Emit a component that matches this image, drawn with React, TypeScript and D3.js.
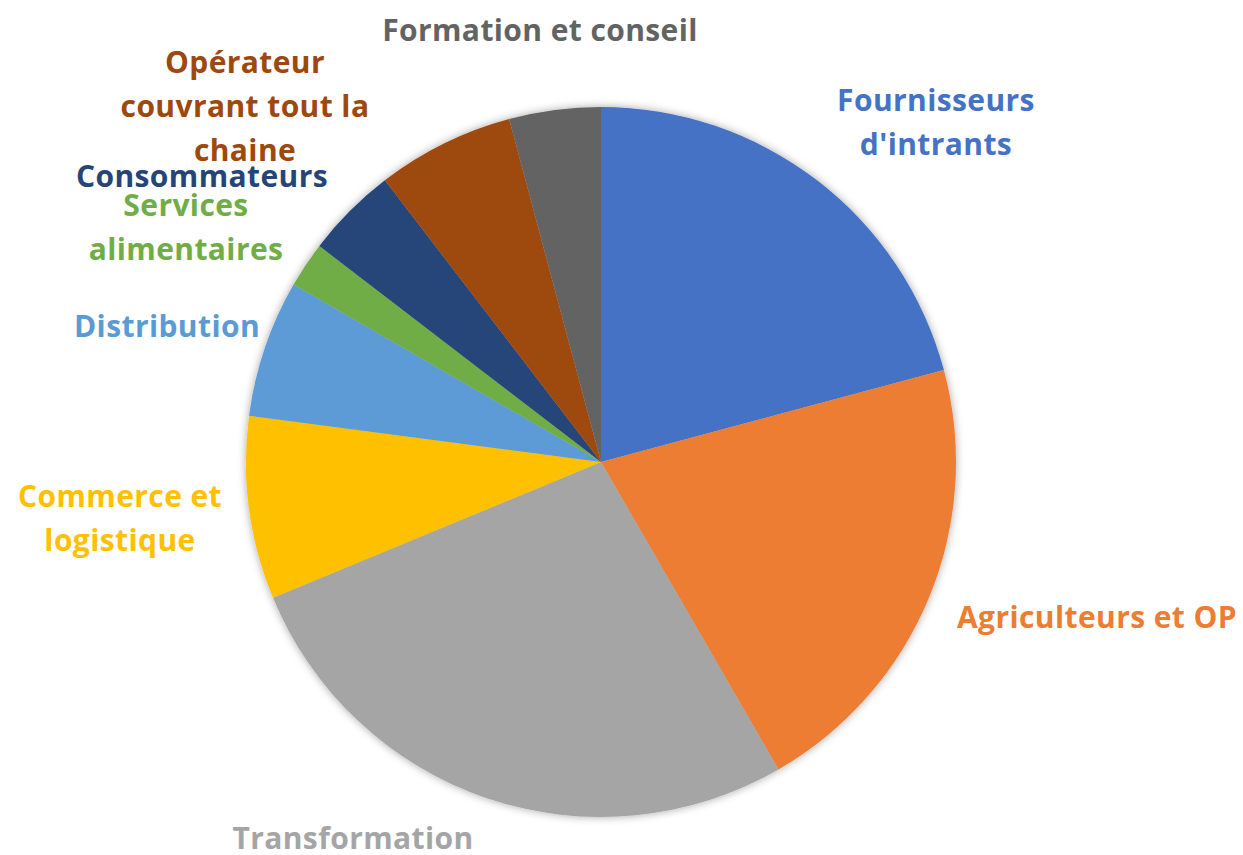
import React, { useEffect, useRef } from 'react';
import * as d3 from 'd3';

const categories = [
  "Fournisseurs d'intrants",
  'Agriculteurs et OP',
  'Transformation',
  'Commerce et logistique',
  'Distribution',
  'Services alimentaires',
  'Consommateurs',
  'Opérateur couvrant tout la chaine',
  'Formation et conseil',
];
const counts = [10, 10, 13, 4, 3, 1, 2, 3, 2];
const colors = ['#4472C4', '#ED7D31', '#A5A5A5', '#FFC000', '#5B9BD5', '#70AD47', '#264478', '#9E480E', '#636363'];

// label text lines as Excel wrapped them
const labelLines = [
  ['Fournisseurs', "d'intrants"],
  ['Agriculteurs et OP'],
  ['Transformation'],
  ['Commerce et', 'logistique'],
  ['Distribution'],
  ['Services', 'alimentaires'],
  ['Consommateurs'],
  ['Opérateur', 'couvrant tout la', 'chaine'],
  ['Formation et conseil'],
];
// label centres, relative to pie centre
const labelOffsets = [
  [335, -340], [496, 155], [-248, 376], [-481, 56], [-434, -136],
  [-415, -235], [-399, -286], [-356, -356], [-61, -432],
];

const App = () => {
  const svgRef = useRef<SVGSVGElement>(null);

  useEffect(() => {
    const svg = d3.select(svgRef.current);
    svg.selectAll('*').remove();

    const width = 1243;
    const height = 855;
    const cx = 601;
    const cy = 462;
    const radius = 355;
    const lineH = 44;

    const defs = svg.append('defs');
    const f = defs.append('filter').attr('id', 'shadow').attr('x', '-10%').attr('y', '-10%').attr('width', '120%').attr('height', '120%');
    f.append('feDropShadow').attr('dx', 0).attr('dy', 0).attr('stdDeviation', 4).attr('flood-color', '#000').attr('flood-opacity', 0.35);

    const pie = d3.pie<number>().sort(null).value(d => d);
    const arc = d3.arc<d3.PieArcDatum<number>>().innerRadius(0).outerRadius(radius);

    const g = svg.append('g').attr('transform', `translate(${cx},${cy})`);

    g.append('g')
      .attr('filter', 'url(#shadow)')
      .selectAll('path')
      .data(pie(counts))
      .enter()
      .append('path')
      .attr('d', arc)
      .attr('fill', (d, i) => colors[i]);

    const labels = g.selectAll('.label')
      .data(categories)
      .enter()
      .append('text')
      .classed('label', true)
      .attr('text-anchor', 'middle')
      .style('font-family', '"Open Sans", sans-serif')
      .style('font-weight', 'bold')
      .style('letter-spacing', '0.4px')
      .attr('font-size', 30)
      .attr('fill', (d, i) => colors[i]);

    labels.each(function (d, i) {
      const lines = labelLines[i];
      const [ox, oy] = labelOffsets[i];
      const top = oy - ((lines.length - 1) * lineH) / 2;
      d3.select(this)
        .selectAll('tspan')
        .data(lines)
        .enter()
        .append('tspan')
        .attr('x', ox)
        .attr('y', (l, j) => top + j * lineH)
        .attr('dy', '0.35em')
        .text(l => l);
    });

    svg.attr('width', width).attr('height', height);
  }, []);

  return <svg ref={svgRef} style={{ position: 'absolute', left: 0, top: 0 }}></svg>;
};

export default App;
